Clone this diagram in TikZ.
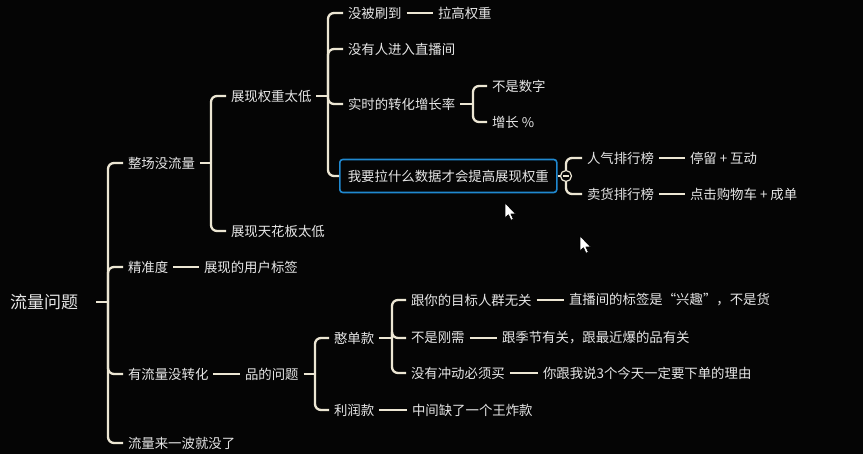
\documentclass[tikz,border=0pt]{standalone}
\usepackage{fontspec}
\newfontfamily\cjk{Noto Sans CJK SC}
\definecolor{cbg}{HTML}{050505}
\definecolor{cline}{HTML}{ECE6D3}
\definecolor{ctext}{HTML}{E6E6E6}
\definecolor{cblue}{HTML}{2089D0}
\tikzset{
  every picture/.style={line width=2pt},
  topic/.style={anchor=west, text=ctext, font=\cjk\fontsize{13.4}{15}\selectfont, inner xsep=4pt, inner ysep=2pt},
  central/.style={text=ctext, font=\cjk\fontsize{17}{20}\selectfont, inner xsep=4pt, minimum width=102pt},
  link/.style={draw=cline, line width=2.3pt, rounded corners=6pt},
  picked/.style={topic, draw=cblue, rounded corners=3pt, inner xsep=8pt, minimum height=33pt, line width=1.6pt},
  cursor/.style={fill=white, draw=black, line width=0.6pt, line join=round},
}
\begin{document}
\begin{tikzpicture}[x=1pt, y=-1pt]
  \path[use as bounding box, fill=cbg] (0,0) rectangle (863,454);
  % central topic and main branches
  \node[central] (root) at (44,302) {流量问题};
  \node[topic] (n1) at (123,163) {整场没流量};
  \node[topic] (n2) at (123,267) {精准度};
  \node[topic] (n3) at (123,374) {有流量没转化};
  \node[topic] (n4) at (123,443) {流量来一波就没了};
  % 整场没流量
  \node[topic] (n11) at (226,96) {展现权重太低};
  \node[topic] (n12) at (226,231) {展现天花板太低};
  \node[topic] (n111) at (343,13) {没被刷到};
  \node[topic] (n1111) at (433,13) {拉高权重};
  \node[topic] (n112) at (343,49) {没有人进入直播间};
  \node[topic] (n113) at (343,104) {实时的转化增长率};
  \node[topic] (n1131) at (487,86) {不是数字};
  \node[topic] (n1132) at (487,122) {增长 \%};
  \node[picked] (n114) at (339,176) {我要拉什么数据才会提高展现权重};
  \node[draw=cline, circle, minimum size=11pt, inner sep=0pt, line width=1.2pt] (tog) at (566,176) {};
  \node[topic] (n1141) at (582,158) {人气排行榜};
  \node[topic] (n1142) at (582,194) {卖货排行榜};
  \node[topic] (n11411) at (685,158) {停留 + 互动};
  \node[topic] (n11421) at (685,194) {点击购物车 + 成单};
  % 精准度
  \node[topic] (n21) at (199,267) {展现的用户标签};
  % 有流量没转化
  \node[topic] (n31) at (240,374) {品的问题};
  \node[topic] (n311) at (329,338) {憨单款};
  \node[topic] (n312) at (329,410) {利润款};
  \node[topic] (a1) at (406,300) {跟你的目标人群无关};
  \node[topic] (a2) at (564,300) {直播间的标签是“兴趣”，不是货};
  \node[topic] (b1) at (406,338) {不是刚需};
  \node[topic] (b2) at (497,338) {跟季节有关，跟最近爆的品有关};
  \node[topic] (c1) at (406,373) {没有冲动必须买};
  \node[topic] (c2) at (538,373) {你跟我说3个今天一定要下单的理由};
  \node[topic] (d1) at (407,410) {中间缺了一个王炸款};
  % trunks
  \coordinate (t0) at (108,302);
  \coordinate (t1) at (211,163);
  \coordinate (t11) at (328,96);
  \coordinate (t113) at (473,104);
  \coordinate (t31) at (315,374);
  \coordinate (t311) at (392,338);
  \draw[link] (root.east) -- (t0);
  \foreach \c in {n1, n2, n3, n4} \draw[link] (t0) |- (\c.west);
  \draw[link] (n1.east) -- (t1);
  \foreach \c in {n11, n12} \draw[link] (t1) |- (\c.west);
  \draw[link] (n11.east) -- (t11);
  \foreach \c in {n111, n112, n113, n114} \draw[link] (t11) |- (\c.west);
  \draw[link] (n113.east) -- (t113);
  \foreach \c in {n1131, n1132} \draw[link] (t113) |- (\c.west);
  \draw[link] (n31.east) -- (t31);
  \foreach \c in {n311, n312} \draw[link] (t31) |- (\c.west);
  \draw[link] (n311.east) -- (t311);
  \foreach \c in {a1, b1, c1} \draw[link] (t311) |- (\c.west);
  \foreach \a/\b in {n111/n1111, n1141/n11411, n1142/n11421, n2/n21, n3/n31, a1/a2, b1/b2, c1/c2, n312/d1}
    \draw[link] (\a.east) -- (\b.west);
  % collapse toggle on the selected topic
  \draw[cline, line width=1.5pt] (n114.east) -- (tog.west);
  \draw[cline, line width=1.2pt] ([xshift=-3pt]tog.center) -- ([xshift=3pt]tog.center);
  \draw[link] (tog.north) |- (n1141.west);
  \draw[link] (tog.south) |- (n1142.west);
  % mouse pointers
  \foreach \cx/\cy in {505/203, 580/236}
    \draw[cursor] (\cx,\cy) -- ++(0,15) -- ++(3.5,-3.3) -- ++(2.5,5.5) -- ++(2.3,-1) -- ++(-2.4,-5.3) -- ++(4.8,0) -- cycle;
\end{tikzpicture}
\end{document}
